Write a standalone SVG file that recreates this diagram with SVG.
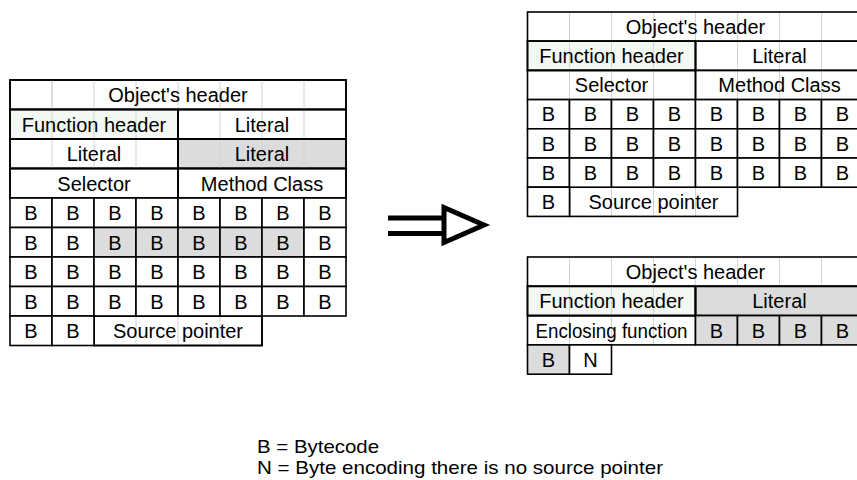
<svg xmlns="http://www.w3.org/2000/svg" width="857" height="480" viewBox="0 0 857 480">
<style>
.c{fill:#fff;stroke:#000;stroke-width:1.6}
.g{fill:#dcdcdc;stroke:#000;stroke-width:1.6}
.f{fill:#f4f8f2;stroke:#000;stroke-width:1.6}
.grid{stroke:#d4d4d4;stroke-width:1;fill:none}
text{font-family:"Liberation Sans",Arial,Helvetica,sans-serif;font-size:20px;fill:#000;text-anchor:middle}
.lg{text-anchor:start;font-size:19px}
.ar{stroke:#000;stroke-width:5;fill:none}
</style>
<rect width="857" height="480" fill="#fff"/>

<g id="left-table">
<rect class="c" x="10" y="80" width="336" height="29.5"/>
<rect class="f" x="10" y="109.5" width="168" height="29.5"/>
<rect class="c" x="178" y="109.5" width="168" height="29.5"/>
<rect class="c" x="10" y="139" width="168" height="29.5"/>
<rect class="g" x="178" y="139" width="168" height="29.5"/>
<rect class="c" x="10" y="168.5" width="168" height="29.5"/>
<rect class="c" x="178" y="168.5" width="168" height="29.5"/>
<rect class="c" x="94" y="316" width="168" height="29.5"/>
<path class="grid" d="M52 80V168.5M94 80V168.5M136 80V168.5M220 80V168.5M262 80V168.5M304 80V168.5M52 80V109.5M178 80V109.5M136 316V345.5M178 316V345.5M220 316V345.5"/>
<rect class="c" x="10" y="80" width="336" height="29.5" style="fill:none"/>
<rect class="f" x="10" y="109.5" width="168" height="29.5" style="fill:none"/>
<rect class="c" x="178" y="109.5" width="168" height="29.5" style="fill:none"/>
<rect class="c" x="10" y="139" width="168" height="29.5" style="fill:none"/>
<rect class="c" x="178" y="139" width="168" height="29.5" style="fill:none"/>
<rect class="c" x="10" y="168.5" width="168" height="29.5" style="fill:none"/>
<rect class="c" x="178" y="168.5" width="168" height="29.5" style="fill:none"/>
<rect class="c" x="94" y="316" width="168" height="29.5" style="fill:none"/>
<text x="178" y="102">Object's header</text>
<text x="94" y="131.5">Function header</text>
<text x="262" y="131.5">Literal</text>
<text x="94" y="161">Literal</text>
<text x="262" y="161">Literal</text>
<text x="94" y="190.5">Selector</text>
<text x="262" y="190.5">Method Class</text>
<g id="left-bytes">
<rect class="c" x="10" y="198" width="42" height="29.5"/><rect class="c" x="52" y="198" width="42" height="29.5"/><rect class="c" x="94" y="198" width="42" height="29.5"/><rect class="c" x="136" y="198" width="42" height="29.5"/><rect class="c" x="178" y="198" width="42" height="29.5"/><rect class="c" x="220" y="198" width="42" height="29.5"/><rect class="c" x="262" y="198" width="42" height="29.5"/><rect class="c" x="304" y="198" width="42" height="29.5"/>
<rect class="c" x="10" y="227.5" width="42" height="29.5"/><rect class="c" x="52" y="227.5" width="42" height="29.5"/><rect class="g" x="94" y="227.5" width="42" height="29.5"/><rect class="g" x="136" y="227.5" width="42" height="29.5"/><rect class="g" x="178" y="227.5" width="42" height="29.5"/><rect class="g" x="220" y="227.5" width="42" height="29.5"/><rect class="g" x="262" y="227.5" width="42" height="29.5"/><rect class="c" x="304" y="227.5" width="42" height="29.5"/>
<rect class="c" x="10" y="257" width="42" height="29.5"/><rect class="c" x="52" y="257" width="42" height="29.5"/><rect class="c" x="94" y="257" width="42" height="29.5"/><rect class="c" x="136" y="257" width="42" height="29.5"/><rect class="c" x="178" y="257" width="42" height="29.5"/><rect class="c" x="220" y="257" width="42" height="29.5"/><rect class="c" x="262" y="257" width="42" height="29.5"/><rect class="c" x="304" y="257" width="42" height="29.5"/>
<rect class="c" x="10" y="286.5" width="42" height="29.5"/><rect class="c" x="52" y="286.5" width="42" height="29.5"/><rect class="c" x="94" y="286.5" width="42" height="29.5"/><rect class="c" x="136" y="286.5" width="42" height="29.5"/><rect class="c" x="178" y="286.5" width="42" height="29.5"/><rect class="c" x="220" y="286.5" width="42" height="29.5"/><rect class="c" x="262" y="286.5" width="42" height="29.5"/><rect class="c" x="304" y="286.5" width="42" height="29.5"/>
<rect class="c" x="10" y="316" width="42" height="29.5"/><rect class="c" x="52" y="316" width="42" height="29.5"/>
<text x="31" y="220">B</text><text x="73" y="220">B</text><text x="115" y="220">B</text><text x="157" y="220">B</text><text x="199" y="220">B</text><text x="241" y="220">B</text><text x="283" y="220">B</text><text x="325" y="220">B</text>
<text x="31" y="249.5">B</text><text x="73" y="249.5">B</text><text x="115" y="249.5">B</text><text x="157" y="249.5">B</text><text x="199" y="249.5">B</text><text x="241" y="249.5">B</text><text x="283" y="249.5">B</text><text x="325" y="249.5">B</text>
<text x="31" y="279">B</text><text x="73" y="279">B</text><text x="115" y="279">B</text><text x="157" y="279">B</text><text x="199" y="279">B</text><text x="241" y="279">B</text><text x="283" y="279">B</text><text x="325" y="279">B</text>
<text x="31" y="308.5">B</text><text x="73" y="308.5">B</text><text x="115" y="308.5">B</text><text x="157" y="308.5">B</text><text x="199" y="308.5">B</text><text x="241" y="308.5">B</text><text x="283" y="308.5">B</text><text x="325" y="308.5">B</text>
<text x="31" y="338">B</text><text x="73" y="338">B</text>
</g>
<text x="178" y="338">Source pointer</text>
</g>

<g id="right-top-table">
<rect class="f" x="527.5" y="41.2" width="168" height="29.2"/>
<path class="grid" d="M569.5 12V99.6M611.5 12V99.6M653.5 12V99.6M737.5 12V99.6M779.5 12V99.6M821.5 12V99.6M695.5 12V41.2M611.5 187.2V216.4M653.5 187.2V216.4M695.5 187.2V216.4"/>
<rect class="c" x="527.5" y="12" width="336" height="29.2" style="fill:none"/>
<rect class="c" x="527.5" y="41.2" width="168" height="29.2" style="fill:none"/>
<rect class="c" x="695.5" y="41.2" width="168" height="29.2" style="fill:none"/>
<rect class="c" x="527.5" y="70.4" width="168" height="29.2" style="fill:none"/>
<rect class="c" x="695.5" y="70.4" width="168" height="29.2" style="fill:none"/>
<rect class="c" x="569.5" y="187.2" width="168" height="29.2" style="fill:none"/>
<text x="695.5" y="33.8">Object's header</text>
<text x="611.5" y="63">Function header</text>
<text x="779.5" y="63">Literal</text>
<text x="611.5" y="92.2">Selector</text>
<text x="779.5" y="92.2">Method Class</text>
<g id="right-top-bytes">
<rect class="c" x="527.5" y="99.6" width="42" height="29.2"/><rect class="c" x="569.5" y="99.6" width="42" height="29.2"/><rect class="c" x="611.5" y="99.6" width="42" height="29.2"/><rect class="c" x="653.5" y="99.6" width="42" height="29.2"/><rect class="c" x="695.5" y="99.6" width="42" height="29.2"/><rect class="c" x="737.5" y="99.6" width="42" height="29.2"/><rect class="c" x="779.5" y="99.6" width="42" height="29.2"/><rect class="c" x="821.5" y="99.6" width="42" height="29.2"/>
<rect class="c" x="527.5" y="128.8" width="42" height="29.2"/><rect class="c" x="569.5" y="128.8" width="42" height="29.2"/><rect class="c" x="611.5" y="128.8" width="42" height="29.2"/><rect class="c" x="653.5" y="128.8" width="42" height="29.2"/><rect class="c" x="695.5" y="128.8" width="42" height="29.2"/><rect class="c" x="737.5" y="128.8" width="42" height="29.2"/><rect class="c" x="779.5" y="128.8" width="42" height="29.2"/><rect class="c" x="821.5" y="128.8" width="42" height="29.2"/>
<rect class="c" x="527.5" y="158" width="42" height="29.2"/><rect class="c" x="569.5" y="158" width="42" height="29.2"/><rect class="c" x="611.5" y="158" width="42" height="29.2"/><rect class="c" x="653.5" y="158" width="42" height="29.2"/><rect class="c" x="695.5" y="158" width="42" height="29.2"/><rect class="c" x="737.5" y="158" width="42" height="29.2"/><rect class="c" x="779.5" y="158" width="42" height="29.2"/><rect class="c" x="821.5" y="158" width="42" height="29.2"/>
<rect class="c" x="527.5" y="187.2" width="42" height="29.2"/>
<text x="548.5" y="121.4">B</text><text x="590.5" y="121.4">B</text><text x="632.5" y="121.4">B</text><text x="674.5" y="121.4">B</text><text x="716.5" y="121.4">B</text><text x="758.5" y="121.4">B</text><text x="800.5" y="121.4">B</text><text x="842.5" y="121.4">B</text>
<text x="548.5" y="150.6">B</text><text x="590.5" y="150.6">B</text><text x="632.5" y="150.6">B</text><text x="674.5" y="150.6">B</text><text x="716.5" y="150.6">B</text><text x="758.5" y="150.6">B</text><text x="800.5" y="150.6">B</text><text x="842.5" y="150.6">B</text>
<text x="548.5" y="179.8">B</text><text x="590.5" y="179.8">B</text><text x="632.5" y="179.8">B</text><text x="674.5" y="179.8">B</text><text x="716.5" y="179.8">B</text><text x="758.5" y="179.8">B</text><text x="800.5" y="179.8">B</text><text x="842.5" y="179.8">B</text>
<text x="548.5" y="209">B</text>
</g>
<text x="653.5" y="209">Source pointer</text>
</g>

<g id="right-bottom-table">
<rect class="f" x="527.5" y="286.3" width="168" height="29.3"/>
<rect class="g" x="695.5" y="286.3" width="168" height="29.3"/>
<path class="grid" d="M569.5 257V344.9M611.5 257V344.9M653.5 257V344.9M737.5 257V286.3M779.5 257V286.3M821.5 257V286.3M695.5 257V286.3"/>
<rect class="c" x="527.5" y="257" width="336" height="29.3" style="fill:none"/>
<rect class="c" x="527.5" y="286.3" width="168" height="29.3" style="fill:none"/>
<rect class="c" x="695.5" y="286.3" width="168" height="29.3" style="fill:none"/>
<rect class="c" x="527.5" y="315.6" width="168" height="29.3" style="fill:none"/>
<rect class="g" x="695.5" y="315.6" width="42" height="29.3"/><rect class="g" x="737.5" y="315.6" width="42" height="29.3"/><rect class="g" x="779.5" y="315.6" width="42" height="29.3"/><rect class="g" x="821.5" y="315.6" width="42" height="29.3"/>
<rect class="g" x="527.5" y="344.9" width="42" height="29.3"/><rect class="c" x="569.5" y="344.9" width="42" height="29.3"/>
<text x="695.5" y="279">Object's header</text>
<text x="611.5" y="308.3">Function header</text>
<text x="779.5" y="308.3">Literal</text>
<text x="611.5" y="337.6" textLength="152" lengthAdjust="spacingAndGlyphs">Enclosing function</text>
<text x="716.5" y="337.6">B</text><text x="758.5" y="337.6">B</text><text x="800.5" y="337.6">B</text><text x="842.5" y="337.6">B</text>
<text x="548.5" y="366.9">B</text><text x="590.5" y="366.9">N</text>
</g>

<g id="connectors">
<path class="ar" d="M388 218H444M388 233.5H444"/>
<polygon class="ar" points="444,207.5 444,242.5 484,225" style="fill:#fff"/>
</g>

<g id="legend">
<text class="lg" x="257" y="453" textLength="122" lengthAdjust="spacingAndGlyphs">B = Bytecode</text>
<text class="lg" x="257" y="474" textLength="406" lengthAdjust="spacingAndGlyphs">N = Byte encoding there is no source pointer</text>
</g>
</svg>
